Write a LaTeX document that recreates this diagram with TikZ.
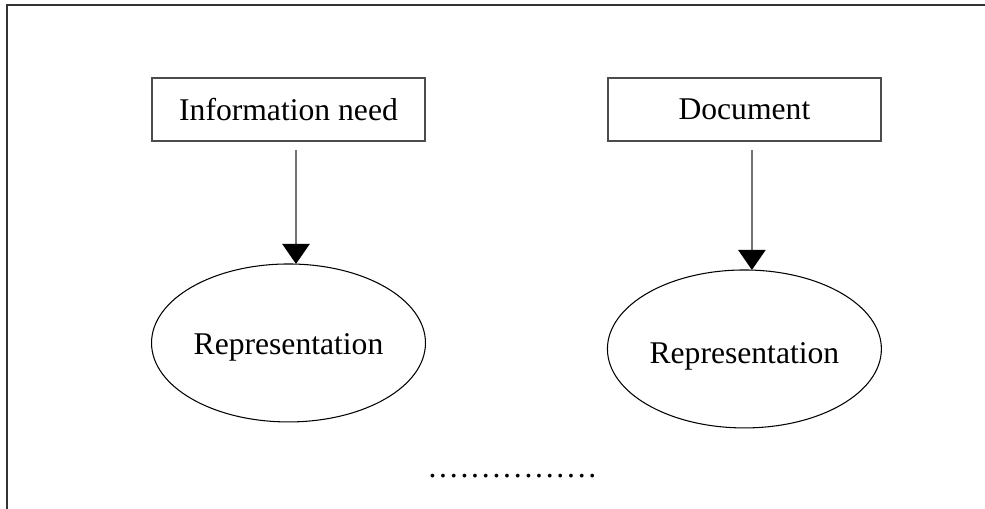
\documentclass[tikz,border=0pt]{standalone}
\usepackage{fontspec}
\setmainfont{Liberation Serif}
\usetikzlibrary{shapes.geometric, positioning, arrows.meta}

\begin{document}
\begin{tikzpicture}[
		x=0.02cm, y=-0.02cm,
		node distance=2.46cm and 3.66cm,
		box/.style={draw=black!70, line width=0.9pt, rectangle, minimum width=5.46cm, minimum height=1.26cm, inner sep=0pt, outer sep=0pt, font=\fontsize{18}{21}\selectfont},
		rep/.style={draw, ellipse, line width=0.6pt, minimum width=5.48cm, minimum height=3.16cm, inner sep=0pt, outer sep=0pt, text height=17pt, text depth=4pt, font=\fontsize{18}{21}\selectfont},
		arrow/.style={-{Triangle[length=0.4cm, width=0.54cm, color=black]}, draw=black!55, line width=1.4pt, shorten <=0.18cm}
		]
		
		% Frame
		\useasboundingbox (0,0) rectangle (985,508);
		\draw[black!80, line width=1.5pt] (7,510) -- (7,5) -- (990,5);
		
		% Nodes
		\node[box] (need) at (288.5,109.5) {Information need};
		
		\node[box, right=of need] (doc) {Document};
		
		\node[rep, below=of need] (needrep) {Representation};
		
		\node[rep, below=of doc, yshift=-0.12cm, text height=20pt] (docrep) {Representation};
		
		\node[anchor=base, font=\fontsize{18}{21}\selectfont\addfontfeature{LetterSpace=8.7}] (dots) at (512.5,477) {................};
		
		% Arrows
		\draw[arrow] ([xshift=0.15cm]need.south) -- ([xshift=0.15cm]need.south |- needrep.north);
		
		\draw[arrow] ([xshift=0.15cm]doc.south) -- ([xshift=0.15cm]doc.south |- docrep.north);
		
	\end{tikzpicture}
\end{document}
